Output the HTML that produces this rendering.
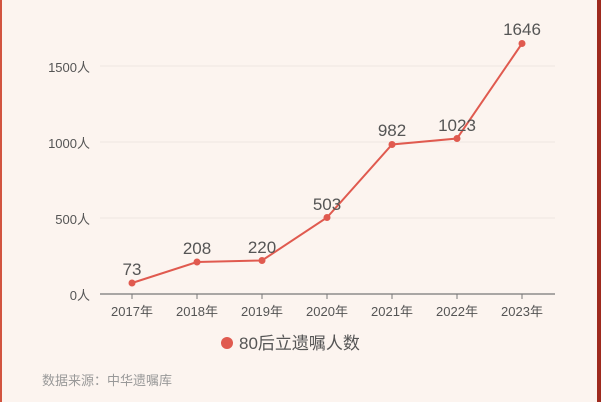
<!DOCTYPE html>
<html><head><meta charset="utf-8"><style>
html,body{margin:0;padding:0;background:#fcf4ef;}
svg{display:block;}
text{font-family:"Liberation Sans","Noto Sans CJK SC",sans-serif;}
</style></head><body>
<svg width="601" height="402" viewBox="0 0 601 402">
<rect x="0" y="0" width="601" height="402" fill="#fcf4ef"/>
<rect x="0" y="0" width="2" height="402" fill="#d2543f"/>
<rect x="597" y="0" width="4" height="402" fill="#9e2a1e"/>
<g stroke="#eee6e1" stroke-width="1">
<line x1="100" y1="66" x2="555" y2="66"/>
<line x1="100" y1="142" x2="555" y2="142"/>
<line x1="100" y1="218" x2="555" y2="218"/>
</g>
<line x1="100" y1="294" x2="555" y2="294" stroke="#777" stroke-width="1.2"/>
<g stroke="#777" stroke-width="1">
<line x1="132" y1="294" x2="132" y2="299"/><line x1="197" y1="294" x2="197" y2="299"/>
<line x1="262" y1="294" x2="262" y2="299"/><line x1="327" y1="294" x2="327" y2="299"/>
<line x1="392" y1="294" x2="392" y2="299"/><line x1="457" y1="294" x2="457" y2="299"/>
<line x1="522" y1="294" x2="522" y2="299"/>
</g>
<g font-size="13" fill="#555" text-anchor="end">
<text x="90" y="72">1500人</text><text x="90" y="148">1000人</text>
<text x="90" y="224">500人</text><text x="90" y="300">0人</text>
</g>
<g font-size="13" fill="#555" text-anchor="middle">
<text x="132" y="316">2017年</text><text x="197" y="316">2018年</text>
<text x="262" y="316">2019年</text><text x="327" y="316">2020年</text>
<text x="392" y="316">2021年</text><text x="457" y="316">2022年</text>
<text x="522" y="316">2023年</text>
</g>
<polyline points="132,283 197,262 262,260.5 327,217.5 392,144.5 457,138.5 522,43.5" fill="none" stroke="#e05a4f" stroke-width="2"/>
<g fill="#e05a4f">
<circle cx="132" cy="283" r="3.5"/><circle cx="197" cy="262" r="3.5"/><circle cx="262" cy="260.5" r="3.5"/>
<circle cx="327" cy="217.5" r="3.5"/><circle cx="392" cy="144.5" r="3.5"/><circle cx="457" cy="138.5" r="3.5"/>
<circle cx="522" cy="43.5" r="3.5"/>
</g>
<g font-size="17" fill="#555" text-anchor="middle">
<text x="132" y="275">73</text><text x="197" y="254">208</text><text x="262" y="253">220</text>
<text x="327" y="210">503</text><text x="392" y="136">982</text><text x="457" y="131">1023</text>
<text x="522" y="35">1646</text>
</g>
<circle cx="227" cy="343" r="6" fill="#e05a4f"/>
<text x="239" y="349" font-size="17" fill="#555">80后立遗嘱人数</text>
<text x="42" y="385" font-size="13" fill="#999">数据来源：中华遗嘱库</text>
</svg>
</body></html>
